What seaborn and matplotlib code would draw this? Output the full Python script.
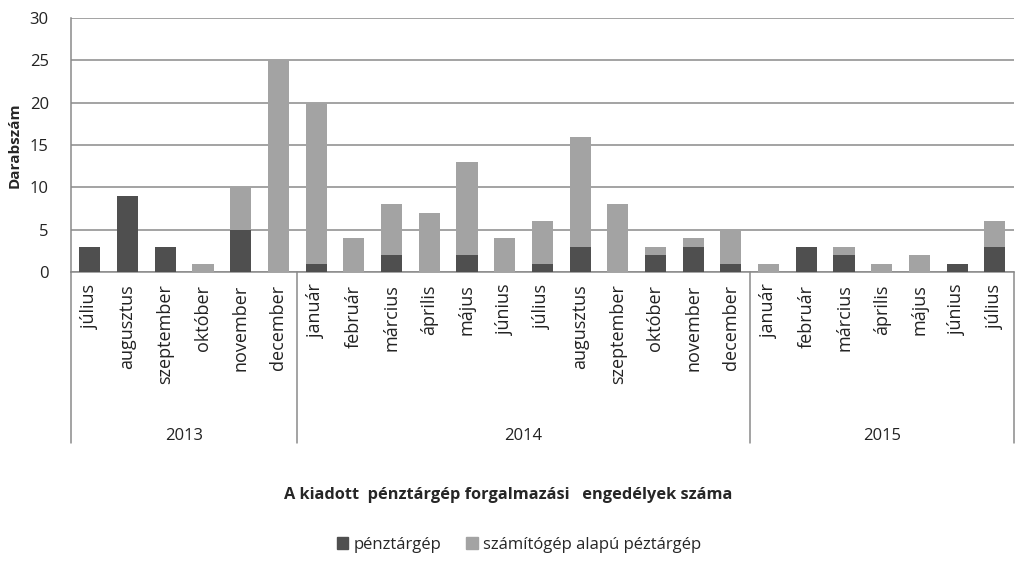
import pandas as pd
import numpy as np
import matplotlib.pyplot as plt
import seaborn as sns
from matplotlib.patches import Patch
from matplotlib.transforms import blended_transform_factory

# Data
years = ['2013', '2014', '2015']
months_2013 = ['július', 'augusztus', 'szeptember', 'október', 'november', 'december']
months_2014 = ['január', 'február', 'március', 'április', 'május', 'június',
               'július', 'augusztus', 'szeptember', 'október', 'november', 'december']
months_2015 = ['január', 'február', 'március', 'április', 'május', 'június', 'július']

penztargep = [3, 9, 3, 0, 5, 0,
              1, 0, 2, 0, 2, 0, 1, 3, 0, 2, 3, 1,
              0, 3, 2, 0, 0, 1, 3]
szamitogep = [0, 0, 0, 1, 5, 25,
              19, 4, 6, 7, 11, 4, 5, 13, 8, 1, 1, 4,
              1, 0, 1, 1, 2, 0, 3]

months = months_2013 + months_2014 + months_2015
year_col = ['2013'] * len(months_2013) + ['2014'] * len(months_2014) + ['2015'] * len(months_2015)

df = pd.DataFrame({'year': year_col, 'month': months,
                   'penztargep': penztargep, 'szamitogep': szamitogep})
df['key'] = df['year'] + ' ' + df['month']
df['total'] = df['penztargep'] + df['szamitogep']

dark = '#4f4f4f'
light = '#a3a3a3'
grid = '#8a8a8a'
txt = '#222222'

sns.set_style('white')
plt.rcParams['font.family'] = ['Open Sans', 'DejaVu Sans']

fig = plt.figure(figsize=(10.17, 5.82), dpi=100)
ax = fig.add_axes([0.0698, 0.5326, 0.927, 0.4364])

order = list(df['key'])
sns.barplot(data=df, x='key', y='total', order=order, color=light, width=0.56,
            saturation=1, linewidth=0, ax=ax, zorder=3)
sns.barplot(data=df, x='key', y='penztargep', order=order, color=dark, width=0.56,
            saturation=1, linewidth=0, ax=ax, zorder=4)

ax.set_ylim(0, 30)
ax.set_xlim(-0.5, len(order) - 0.5)
ax.set_yticks(range(0, 31, 5))
ax.yaxis.grid(True, color=grid, linewidth=1.1, zorder=0)
ax.set_axisbelow(True)
for s in ['top', 'right']:
    ax.spines[s].set_visible(False)
for s in ['left', 'bottom']:
    ax.spines[s].set_color(grid)
    ax.spines[s].set_linewidth(1.1)

ax.set_xticks(range(len(order)))
ax.set_xticklabels(months, rotation=90, fontsize=13, color=txt)
ax.tick_params(axis='x', length=0, pad=9)
ax.tick_params(axis='y', length=0, pad=16, labelsize=12, colors=txt)
ax.set_xlabel('')
ax.set_ylabel('Darabszám', fontsize=11, fontweight='bold')
ax.yaxis.set_label_coords(-0.052, 0.5)

# year groups under the month labels
tr = blended_transform_factory(ax.transData, ax.transAxes)
bounds = [-0.5, 5.5, 17.5, 24.5]
for b in bounds:
    ax.plot([b, b], [0, -0.675], transform=tr, color=grid, linewidth=1.1,
            clip_on=False)
for i, y in enumerate(years):
    mid = (bounds[i] + bounds[i + 1]) / 2
    ax.text(mid, -0.645, y, transform=tr, ha='center', va='center',
            fontsize=12, color=txt)

fig.text(0.5, 0.149, 'A kiadott  pénztárgép forgalmazási   engedélyek száma',
         ha='center', va='center', fontsize=11.8, fontweight='bold')

handles = [Patch(color=dark, label='pénztárgép'),
           Patch(color=light, label='számítógép alapú péztárgép')]
fig.legend(handles=handles, loc='center', bbox_to_anchor=(0.51, 0.064), ncol=2,
           frameon=False, fontsize=12, handlelength=0.7, handleheight=0.7,
           handletextpad=0.3, columnspacing=1.5)

fig.savefig('out.png', dpi=100)
